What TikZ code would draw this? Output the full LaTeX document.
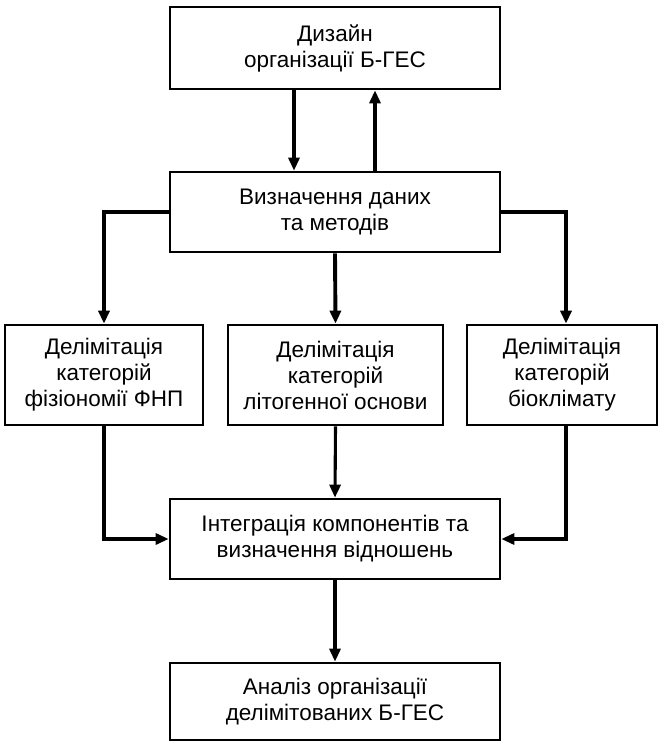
\documentclass[tikz,border=0pt]{standalone}
\usepackage{fontspec}
\setmainfont{Liberation Sans}
\usetikzlibrary{arrows.meta}
\begin{document}
\begin{tikzpicture}[x=1pt,y=1pt,
  box/.style={draw,line width=2.7pt,inner sep=0pt,align=center,
    font=\fontsize{22.5}{26}\selectfont},
  flow/.style={line width=3.1pt,-{Triangle[length=13pt,width=11pt]}},
  branch/.style={line width=3.9pt,-{Triangle[length=13pt,width=11pt]}}]
\useasboundingbox (0,0) rectangle (659,-745);
% upper part
\node[box,minimum width=330pt,minimum height=82pt] (design) at (335,-48)
  {Дизайн\\організації Б-ГЕС};
\node[box,minimum width=330pt,minimum height=80pt] (data) at (335,-212)
  {Визначення даних\\та методів};
% three delimitation boxes
\node[box,minimum width=198pt,minimum height=100pt] (phys) at (104,-375)
  {Делімітація\\категорій\\фізіономії ФНП};
\node[box,minimum width=215pt,minimum height=100pt] (lith) at (335.5,-375)
  {Делімітація\\категорій\\літогенної основи};
\node[box,minimum width=190pt,minimum height=100pt] (bio) at (562,-375)
  {Делімітація\\категорій\\біоклімату};
% lower part
\node[box,minimum width=330pt,minimum height=80pt] (integ) at (335,-539)
  {Інтеграція компонентів та\\визначення відношень};
\node[box,minimum width=330pt,minimum height=77pt] (anal) at (335,-701.5)
  {Аналіз організації\\делімітованих Б-ГЕС};
% connectors
\draw[flow] ([xshift=-41pt]design.south) -- ([xshift=-41pt]data.north);
\draw[flow] ([xshift=40pt]data.north) -- ([xshift=40pt]design.south);
\draw[branch] (data.west) -| (phys.north);
\draw[branch] (data.south) -- (lith.north);
\draw[branch] (data.east) -| ([xshift=4pt]bio.north);
\draw[flow] (phys.south) |- (integ.west);
\draw[flow] (lith.south) -- (integ.north);
\draw[flow] ([xshift=4pt]bio.south) |- (integ.east);
\draw[flow] (integ.south) -- (anal.north);
\end{tikzpicture}
\end{document}
